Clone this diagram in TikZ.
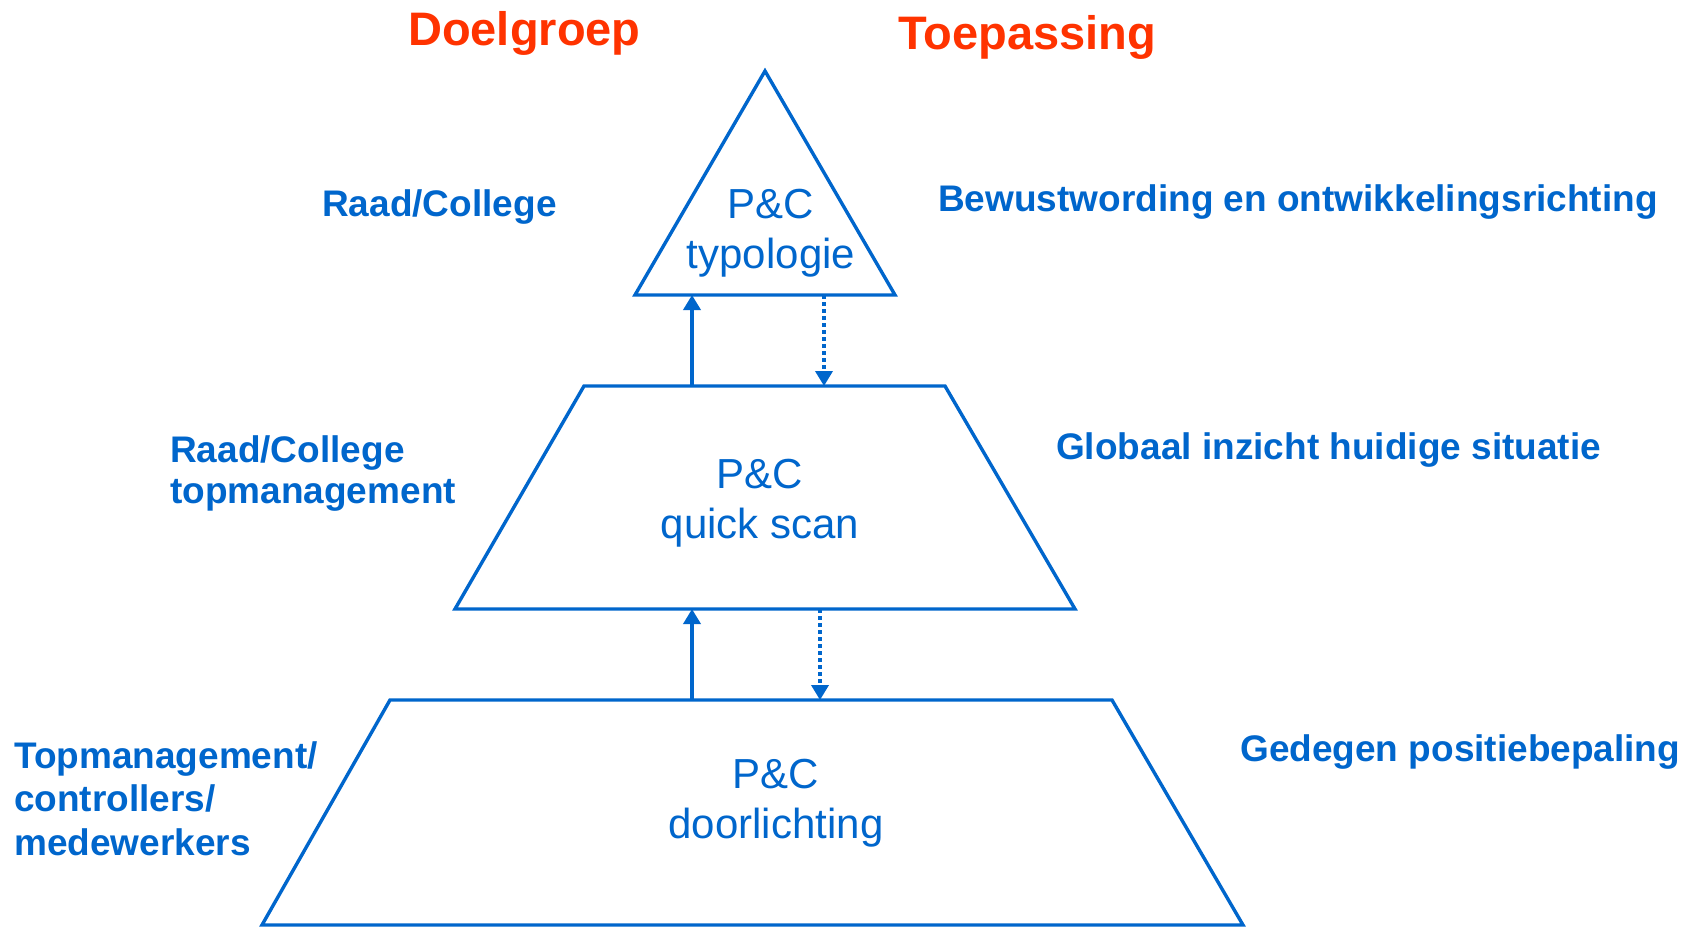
\documentclass[tikz,border=0pt]{standalone}
\usepackage{fontspec}
\setmainfont{Liberation Sans}
\usetikzlibrary{arrows.meta}
\definecolor{pcblue}{RGB}{0,102,204}
\definecolor{pcred}{RGB}{255,51,0}
\tikzset{
  shapeline/.style={draw=pcblue, line width=3.4pt, line join=miter},
  head/.style={text=pcred, font=\fontsize{47}{54}\selectfont\bfseries, inner sep=0pt, anchor=base west},
  lbl/.style={text=pcblue, font=\fontsize{37}{43}\selectfont\bfseries, inner sep=0pt, anchor=base west},
  inlbl/.style={text=pcblue, font=\fontsize{42}{50}\selectfont, inner sep=0pt, anchor=base},
  uparrow/.style={draw=pcblue, line width=3.6pt, -{Triangle[length=15pt,width=17pt]}},
  dotarrow/.style={draw=pcblue, line width=3.6pt, dash pattern=on 4pt off 3pt, -{Triangle[length=15pt,width=17pt]}},
}
\begin{document}
\begin{tikzpicture}[x=1pt,y=-1pt]
\useasboundingbox[fill=white] (0,0) rectangle (1692,927);
% headers
\node[head] (hdoel) at (408,45) {Doelgroep};
\node[head] (htoep) at (898,49) {Toepassing};
% shapes
\draw[shapeline] (765,71) -- (895,295) -- (635,295) -- cycle;
\draw[shapeline] (584,386) -- (945,386) -- (1075,609) -- (455,609) -- cycle;
\draw[shapeline] (390,700) -- (1112,700) -- (1243,925) -- (262,925) -- cycle;
% connector end points
\coordinate (tbA) at (692,295);
\coordinate (tbB) at (824,295);
\coordinate (mtA) at (692,386);
\coordinate (mtB) at (824,386);
\coordinate (mbA) at (692,609);
\coordinate (mbB) at (820,609);
\coordinate (btA) at (692,700);
\coordinate (btB) at (820,700);
% inner texts
\node[inlbl] (t1) at (771,218) {P\&C};
\node[inlbl] (t2) at (771,268) {typologie};
\node[inlbl] (m1) at (760,488) {P\&C};
\node[inlbl] (m2) at (760,538) {quick scan};
\node[inlbl] (b1) at (776,788) {P\&C};
\node[inlbl] (b2) at (776,838) {doorlichting};
% left labels
\node[lbl] (l1) at (322,216) {Raad/College};
\node[lbl] (l2a) at (170,462) {Raad/College};
\node[lbl] (l2b) at (170,503) {topmanagement};
\node[lbl] (l3a) at (14,768) {Topmanagement/};
\node[lbl] (l3b) at (14,811) {controllers/};
\node[lbl] (l3c) at (14,855) {medewerkers};
% right labels
\node[lbl] (r1) at (938,211) {Bewustwording en ontwikkelingsrichting};
\node[lbl] (r2) at (1056,459) {Globaal inzicht huidige situatie};
\node[lbl] (r3) at (1240,761) {Gedegen positiebepaling};
% arrows
\draw[uparrow] (mtA) -- (tbA);
\draw[dotarrow] (tbB) -- (mtB);
\draw[uparrow] (btA) -- (mbA);
\draw[dotarrow] (mbB) -- (btB);
\end{tikzpicture}
\end{document}
